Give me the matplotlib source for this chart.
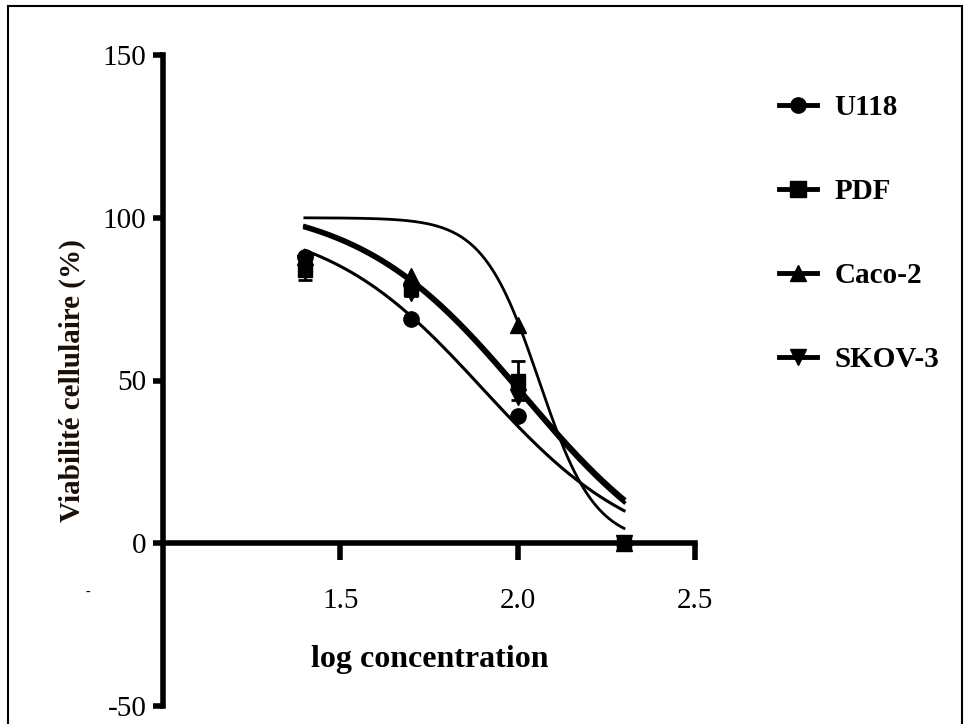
import numpy as np
import matplotlib
matplotlib.use('Agg')
import matplotlib.pyplot as plt
from matplotlib.lines import Line2D
from matplotlib.patches import Rectangle

plt.rcParams['font.family'] = ['Liberation Serif', 'DejaVu Serif']
plt.rcParams['axes.unicode_minus'] = False

# Datos
log_conc = [1.4, 1.7, 2.0, 2.3]
u118 = [88, 69, 39, 0]
pdf = [84, 78, 50, 0]
pdf_err = [3, 2, 6, 0]
caco2 = [88, 82, 67, 0]
skov3 = [86, 77, 45, 0]

# Parametres des courbes ajustees (top, bottom, logIC50, pente)
fit_u118 = (100, -5, 1.901, 1.95)
fit_pdf = (105, -15, 2.016, 1.85)
fit_caco2 = (100, 0, 2.06, 5.5)
fit_skov3 = (105.5, -14, 2.019, 1.85)

series = ['U118', 'PDF', 'Caco-2', 'SKOV-3']
markers = ['o', 's', '^', 'v']


def courbe(x, p):
    top, bottom, c, h = p
    return bottom + (top - bottom) / (1 + 10 ** ((x - c) * h))


fig = plt.figure(figsize=(9.69, 7.24), dpi=100)
ax = fig.add_axes([163 / 969, 1 - 706 / 724, (695 - 163) / 969, (706 - 55) / 724])

xs = np.linspace(log_conc[0], log_conc[-1], 200)
ax.plot(xs, courbe(xs, fit_u118), color='black', lw=2.2)
ax.plot(xs, courbe(xs, fit_pdf), color='black', lw=2.6)
ax.plot(xs, courbe(xs, fit_skov3), color='black', lw=2.6)
ax.plot(xs, courbe(xs, fit_caco2), color='black', lw=2.0)

ax.plot(log_conc, u118, 'o', color='black', ms=11, zorder=3)
ax.errorbar(log_conc, pdf, yerr=pdf_err, fmt='s', color='black', ms=10,
            capsize=5, elinewidth=2, capthick=2, zorder=3)
ax.plot(log_conc, caco2, '^', color='black', ms=11, zorder=3)
ax.plot(log_conc, skov3, 'v', color='black', ms=11, zorder=3)

ax.set_xlim(1.0, 2.5)
ax.set_ylim(-50, 150)
ax.set_xticks([1.5, 2.0, 2.5])
ax.set_xticklabels(['1.5', '2.0', '2.5'])
ax.set_yticks([-50, 0, 50, 100, 150])

ax.spines['top'].set_visible(False)
ax.spines['right'].set_visible(False)
ax.spines['bottom'].set_position(('data', 0))
ax.spines['left'].set_linewidth(4)
ax.spines['bottom'].set_linewidth(4)
ax.spines['left'].set_capstyle('projecting')
ax.tick_params(axis='y', length=7, width=4, labelsize=21, pad=5)
ax.tick_params(axis='x', length=12, width=4, labelsize=21, pad=20)

ax.set_ylabel('Viabilité cellulaire (%)', fontsize=21, fontweight='bold',
              color='#1c0e04', labelpad=12)
fig.text(430 / 969, 1 - 660 / 724, 'log concentration', fontsize=23,
         fontweight='bold', ha='center', va='center')
fig.text(88 / 969, 1 - 592 / 724, '-', fontsize=10, ha='center', va='center')

handles = [Line2D([], [], color='black', lw=3.5, marker=m, ms=11) for m in markers]
fig.legend(handles, series, loc='upper left', bbox_to_anchor=(753 / 969, 1 - 68 / 724),
           frameon=False, prop={'size': 21, 'weight': 'bold'},
           handlelength=1.3, handletextpad=0.6, labelspacing=1.95)

# Cadre
fig.patches.append(Rectangle((8 / 969, -0.02), 954 / 969, 1.02 - 6 / 724,
                             transform=fig.transFigure, fill=False,
                             edgecolor='black', lw=1.5))

plt.savefig('out.png', dpi=100)
